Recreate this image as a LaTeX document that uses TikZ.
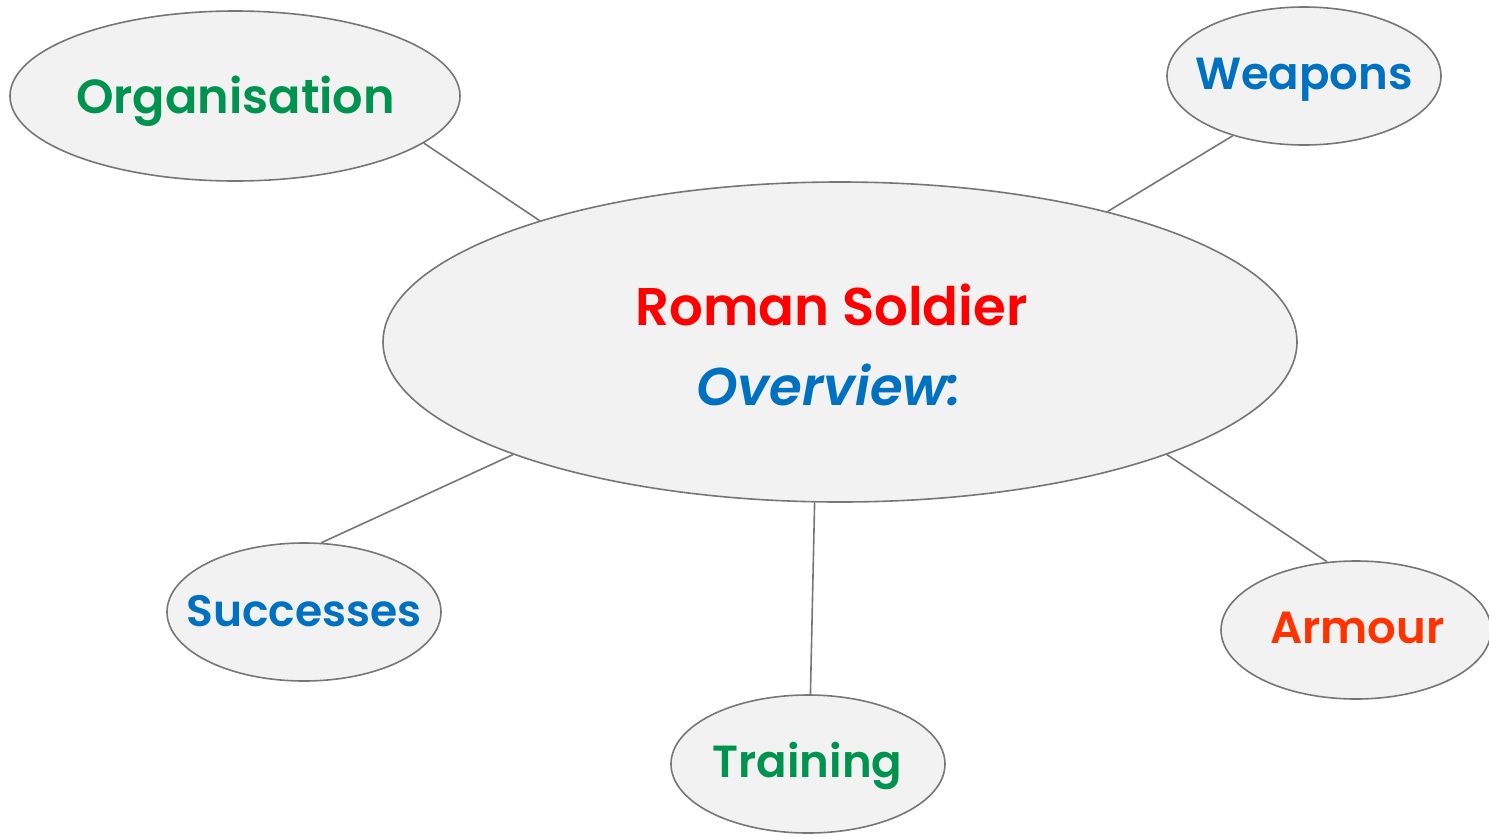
\documentclass[tikz,border=0pt]{standalone}
\usepackage{fontspec}
\setmainfont{Poppins}[BoldFont={Poppins SemiBold},BoldItalicFont={Poppins SemiBold Italic}]
\usetikzlibrary{shapes.geometric}
\definecolor{bubblefill}{RGB}{242,242,242}
\definecolor{bubbleline}{RGB}{118,118,118}
\definecolor{leafgreen}{RGB}{0,146,79}
\definecolor{titlered}{RGB}{255,0,0}
\definecolor{skyblue}{RGB}{0,112,192}
\definecolor{armourred}{RGB}{255,51,0}
\begin{document}
\begin{tikzpicture}[x=1pt,y=-1pt,
  bubble/.style={ellipse,draw=bubbleline,fill=bubblefill,line width=1.6pt,inner sep=0pt},
  smallbubble/.style={bubble,minimum width=274pt,minimum height=138pt},
  caption/.style={anchor=base,inner sep=0pt,font=\bfseries\fontsize{45}{50}\selectfont},
  link/.style={draw=bubbleline,line width=1.6pt}]
\useasboundingbox (0,0) rectangle (1489,836);
% central topic
\node[bubble,minimum width=914pt,minimum height=320pt] (hub) at (840,342) {};
\node[caption,font=\bfseries\fontsize{53}{60}\selectfont,text=titlered] (title) at (831.5,325) {Roman Soldier};
\node[caption,font=\bfseries\itshape\fontsize{53}{60}\selectfont,text=skyblue] (sub) at (829,405) {Overview:};
% sub-topic bubbles
\node[bubble,minimum width=450pt,minimum height=170pt] (org) at (235,96) {};
\node[smallbubble] (weap) at (1304,76) {};
\node[smallbubble] (succ) at (304,612) {};
\node[smallbubble] (train) at (808,764) {};
\node[smallbubble,minimum width=270pt] (arm) at (1356,630) {};
% sub-topic captions
\node[caption,font=\bfseries\fontsize{47.8}{54}\selectfont,text=leafgreen] (orgtext) at (235.5,113) {Organisation};
\node[caption,text=skyblue] (weaptext) at (1304,89) {Weapons};
\node[caption,font=\bfseries\fontsize{44}{50}\selectfont,text=skyblue] (succtext) at (304,626) {Successes};
\node[caption,text=leafgreen] (traintext) at (807.5,777) {Training};
\node[caption,text=armourred] (armtext) at (1357.5,643) {Armour};
% connectors
\draw[link] (org.-14) -- (hub.158.6);
\draw[link] (weap.220.3) -- (hub.26.1);
\draw[link] (succ.76.9) -- (hub.199.6);
\draw[link] (train.88.3) -- (hub.261.6);
\draw[link] (arm.113.8) -- (hub.-19.4);
\end{tikzpicture}
\end{document}
